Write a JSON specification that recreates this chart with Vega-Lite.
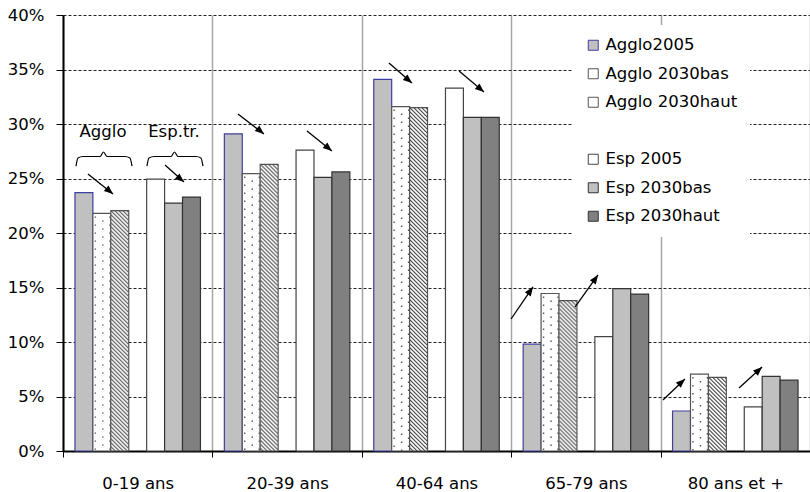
{
"$schema":"https://vega.github.io/schema/vega-lite/v6.json",
"autosize":"none","width":747,"height":436,
"padding":{"left":63,"top":15,"right":0,"bottom":41},
"datasets":{
"bars":[
{"age":"0-19 ans","s":"Agglo2005","v":23.7},{"age":"0-19 ans","s":"Agglo 2030bas","v":21.8},{"age":"0-19 ans","s":"Agglo 2030haut","v":22.05},
{"age":"0-19 ans","s":"Esp 2005","v":24.95},{"age":"0-19 ans","s":"Esp 2030bas","v":22.75},{"age":"0-19 ans","s":"Esp 2030haut","v":23.3},
{"age":"20-39 ans","s":"Agglo2005","v":29.1},{"age":"20-39 ans","s":"Agglo 2030bas","v":25.45},{"age":"20-39 ans","s":"Agglo 2030haut","v":26.3},
{"age":"20-39 ans","s":"Esp 2005","v":27.6},{"age":"20-39 ans","s":"Esp 2030bas","v":25.1},{"age":"20-39 ans","s":"Esp 2030haut","v":25.6},
{"age":"40-64 ans","s":"Agglo2005","v":34.1},{"age":"40-64 ans","s":"Agglo 2030bas","v":31.6},{"age":"40-64 ans","s":"Agglo 2030haut","v":31.5},
{"age":"40-64 ans","s":"Esp 2005","v":33.3},{"age":"40-64 ans","s":"Esp 2030bas","v":30.6},{"age":"40-64 ans","s":"Esp 2030haut","v":30.6},
{"age":"65-79 ans","s":"Agglo2005","v":9.8},{"age":"65-79 ans","s":"Agglo 2030bas","v":14.45},{"age":"65-79 ans","s":"Agglo 2030haut","v":13.8},
{"age":"65-79 ans","s":"Esp 2005","v":10.5},{"age":"65-79 ans","s":"Esp 2030bas","v":14.9},{"age":"65-79 ans","s":"Esp 2030haut","v":14.4},
{"age":"80 ans et +","s":"Agglo2005","v":3.67},{"age":"80 ans et +","s":"Agglo 2030bas","v":7.06},{"age":"80 ans et +","s":"Agglo 2030haut","v":6.76},
{"age":"80 ans et +","s":"Esp 2005","v":4.04},{"age":"80 ans et +","s":"Esp 2030bas","v":6.85},{"age":"80 ans et +","s":"Esp 2030haut","v":6.5}
],
"arrows":[
{"age":"0-19 ans","x1":0.167,"y1":25.41,"x2":0.335,"y2":23.58},
{"age":"0-19 ans","x1":0.683,"y1":26.24,"x2":0.81,"y2":24.68},
{"age":"20-39 ans","x1":1.171,"y1":30.92,"x2":1.345,"y2":29.08},
{"age":"20-39 ans","x1":1.633,"y1":29.36,"x2":1.8,"y2":27.52},
{"age":"40-64 ans","x1":2.182,"y1":35.6,"x2":2.336,"y2":33.76},
{"age":"40-64 ans","x1":2.651,"y1":34.86,"x2":2.818,"y2":32.94},
{"age":"65-79 ans","x1":2.999,"y1":12.11,"x2":3.146,"y2":15.05},
{"age":"65-79 ans","x1":3.427,"y1":13.21,"x2":3.581,"y2":16.15},
{"age":"80 ans et +","x1":4.016,"y1":4.68,"x2":4.163,"y2":6.61},
{"age":"80 ans et +","x1":4.525,"y1":5.78,"x2":4.679,"y2":7.71}
],
"braces":[
{"b":"A","x":0.087,"y":26.14},{"b":"A","x":0.1,"y":26.88},{"b":"A","x":0.134,"y":27.02},{"b":"A","x":0.248,"y":27.02},{"b":"A","x":0.271,"y":27.43},{"b":"A","x":0.295,"y":27.02},{"b":"A","x":0.415,"y":27.02},{"b":"A","x":0.448,"y":26.88},{"b":"A","x":0.462,"y":26.14},
{"b":"E","x":0.562,"y":26.14},{"b":"E","x":0.575,"y":26.88},{"b":"E","x":0.609,"y":27.02},{"b":"E","x":0.723,"y":27.02},{"b":"E","x":0.746,"y":27.43},{"b":"E","x":0.77,"y":27.02},{"b":"E","x":0.89,"y":27.02},{"b":"E","x":0.923,"y":26.88},{"b":"E","x":0.937,"y":26.14}
],
"notes":[{"t":"Agglo","x":0.268,"y":29.27},{"t":"Esp.tr.","x":0.743,"y":29.27}]
},
"layer":[
{
"layer":[
{"data":{"name":"bars"},
"mark":{"type":"bar","strokeWidth":1.2},
"encoding":{
"x":{"field":"age","type":"nominal","scale":{"domain":["0-19 ans","20-39 ans","40-64 ans","65-79 ans","80 ans et +"],"paddingInner":0,"paddingOuter":0},"axis":{"tickBand":"extent","title":null,"labelAngle":0}},
"xOffset":{"field":"s","type":"nominal","scale":{"domain":["Agglo2005","Agglo 2030bas","Agglo 2030haut","gap","Esp 2005","Esp 2030bas","Esp 2030haut"],"paddingInner":0,"paddingOuter":0.667}},
"y":{"field":"v","type":"quantitative","scale":{"domain":[0,40]},"axis":{"values":[0,5,10,15,20,25,30,35,40],"labelExpr":"datum.value + '%'","title":null}},
"fill":{"field":"s","type":"nominal","scale":{"domain":["Agglo2005","Agglo 2030bas","Agglo 2030haut","gap","Esp 2005","Esp 2030bas","Esp 2030haut"],"range":["#c0c0c0","#ffffff","#ffffff","transparent","#ffffff","#c0c0c0","#808080"]},"legend":{"title":null,"labelExpr":"datum.label == 'gap' ? '' : datum.label"}},
"stroke":{"field":"s","type":"nominal","scale":{"domain":["Agglo2005","Agglo 2030bas","Agglo 2030haut","gap","Esp 2005","Esp 2030bas","Esp 2030haut"],"range":["#3f3f9f","#555555","#555555","transparent","#444444","#333333","#333333"]},"legend":{"title":null,"labelExpr":"datum.label == 'gap' ? '' : datum.label"}}
}},
{"data":{"name":"bars"},
"transform":[{"filter":"datum.s == 'Agglo 2030bas'"}],
"encoding":{"y":{"field":"v","type":"quantitative"},"y2":{"datum":0}},
"layer":[
{"mark":{"type":"rule","strokeDash":[1.4,6.6],"strokeDashOffset":-3,"strokeWidth":1.4,"color":"#555555"},"encoding":{"x":{"field":"age","type":"nominal","bandPosition":0.2165}}},
{"mark":{"type":"rule","strokeDash":[1.4,6.6],"strokeDashOffset":-7,"strokeWidth":1.4,"color":"#555555"},"encoding":{"x":{"field":"age","type":"nominal","bandPosition":0.2667}}},
{"mark":{"type":"rule","strokeDash":[1.4,6.6],"strokeDashOffset":-3,"strokeWidth":1.4,"color":"#555555"},"encoding":{"x":{"field":"age","type":"nominal","bandPosition":0.3136}}}
]},
{"data":{"name":"bars"},
"transform":[{"filter":"datum.s == 'Agglo 2030haut'"}],
"encoding":{"y":{"field":"v","type":"quantitative"},"y2":{"datum":0}},
"layer":[
{"mark":{"type":"rule","strokeDashOffset":8,"strokeDash":[1.6,2.4],"strokeWidth":1,"color":"#444444"},"encoding":{"x":{"field":"age","type":"nominal","bandPosition":0.32657}}},
{"mark":{"type":"rule","strokeDashOffset":7,"strokeDash":[1.6,2.4],"strokeWidth":1,"color":"#444444"},"encoding":{"x":{"field":"age","type":"nominal","bandPosition":0.33327}}},
{"mark":{"type":"rule","strokeDashOffset":6,"strokeDash":[1.6,2.4],"strokeWidth":1,"color":"#444444"},"encoding":{"x":{"field":"age","type":"nominal","bandPosition":0.33996}}},
{"mark":{"type":"rule","strokeDashOffset":5,"strokeDash":[1.6,2.4],"strokeWidth":1,"color":"#444444"},"encoding":{"x":{"field":"age","type":"nominal","bandPosition":0.34665}}},
{"mark":{"type":"rule","strokeDashOffset":4,"strokeDash":[1.6,2.4],"strokeWidth":1,"color":"#444444"},"encoding":{"x":{"field":"age","type":"nominal","bandPosition":0.35334}}},
{"mark":{"type":"rule","strokeDashOffset":3,"strokeDash":[1.6,2.4],"strokeWidth":1,"color":"#444444"},"encoding":{"x":{"field":"age","type":"nominal","bandPosition":0.36004}}},
{"mark":{"type":"rule","strokeDashOffset":2,"strokeDash":[1.6,2.4],"strokeWidth":1,"color":"#444444"},"encoding":{"x":{"field":"age","type":"nominal","bandPosition":0.36673}}},
{"mark":{"type":"rule","strokeDashOffset":1,"strokeDash":[1.6,2.4],"strokeWidth":1,"color":"#444444"},"encoding":{"x":{"field":"age","type":"nominal","bandPosition":0.37343}}},
{"mark":{"type":"rule","strokeDashOffset":0,"strokeDash":[1.6,2.4],"strokeWidth":1,"color":"#444444"},"encoding":{"x":{"field":"age","type":"nominal","bandPosition":0.38012}}},
{"mark":{"type":"rule","strokeDashOffset":-1,"strokeDash":[1.6,2.4],"strokeWidth":1,"color":"#444444"},"encoding":{"x":{"field":"age","type":"nominal","bandPosition":0.38681}}},
{"mark":{"type":"rule","strokeDashOffset":-2,"strokeDash":[1.6,2.4],"strokeWidth":1,"color":"#444444"},"encoding":{"x":{"field":"age","type":"nominal","bandPosition":0.39351}}},
{"mark":{"type":"rule","strokeDashOffset":-3,"strokeDash":[1.6,2.4],"strokeWidth":1,"color":"#444444"},"encoding":{"x":{"field":"age","type":"nominal","bandPosition":0.4002}}},
{"mark":{"type":"rule","strokeDashOffset":-4,"strokeDash":[1.6,2.4],"strokeWidth":1,"color":"#444444"},"encoding":{"x":{"field":"age","type":"nominal","bandPosition":0.40689}}},
{"mark":{"type":"rule","strokeDashOffset":-5,"strokeDash":[1.6,2.4],"strokeWidth":1,"color":"#444444"},"encoding":{"x":{"field":"age","type":"nominal","bandPosition":0.41359}}},
{"mark":{"type":"rule","strokeDashOffset":-6,"strokeDash":[1.6,2.4],"strokeWidth":1,"color":"#444444"},"encoding":{"x":{"field":"age","type":"nominal","bandPosition":0.42028}}},
{"mark":{"type":"rule","strokeDashOffset":-7,"strokeDash":[1.6,2.4],"strokeWidth":1,"color":"#444444"},"encoding":{"x":{"field":"age","type":"nominal","bandPosition":0.42697}}},
{"mark":{"type":"rule","strokeDashOffset":-8,"strokeDash":[1.6,2.4],"strokeWidth":1,"color":"#444444"},"encoding":{"x":{"field":"age","type":"nominal","bandPosition":0.43367}}}
]}
]
},
{
"layer":[
{"data":{"name":"arrows"},"mark":{"type":"rule","color":"#000000","strokeWidth":1.3},
"encoding":{"x":{"field":"x1","type":"quantitative","scale":{"domain":[0,5]},"axis":null},"x2":{"field":"x2"},"y":{"field":"y1","type":"quantitative","title":null},"y2":{"field":"y2"}}},
{"data":{"name":"arrows"},"transform":[{"filter":"datum.y2 < datum.y1"}],
"mark":{"type":"point","shape":"M0,0L-0.8,2L0.8,2Z","filled":true,"color":"#000000","opacity":1,"size":81,"angle":130},
"encoding":{"x":{"field":"x2","type":"quantitative","scale":{"domain":[0,5]},"axis":null},"y":{"field":"y2","type":"quantitative","title":null}}},
{"data":{"name":"arrows"},"transform":[{"filter":"datum.age == '65-79 ans'"}],
"mark":{"type":"point","shape":"M0,0L-0.8,2L0.8,2Z","filled":true,"color":"#000000","opacity":1,"size":81,"angle":35},
"encoding":{"x":{"field":"x2","type":"quantitative","scale":{"domain":[0,5]},"axis":null},"y":{"field":"y2","type":"quantitative","title":null}}},
{"data":{"name":"arrows"},"transform":[{"filter":"datum.age == '80 ans et +'"}],
"mark":{"type":"point","shape":"M0,0L-0.8,2L0.8,2Z","filled":true,"color":"#000000","opacity":1,"size":81,"angle":47},
"encoding":{"x":{"field":"x2","type":"quantitative","scale":{"domain":[0,5]},"axis":null},"y":{"field":"y2","type":"quantitative","title":null}}},
{"data":{"name":"braces"},"mark":{"type":"line","color":"#000000","strokeWidth":1.2,"interpolate":"monotone"},
"encoding":{"x":{"field":"x","type":"quantitative","scale":{"domain":[0,5]},"axis":null},"y":{"field":"y","type":"quantitative","title":null},"detail":{"field":"b"}}},
{"data":{"name":"notes"},"mark":{"type":"text","font":"DejaVu Sans","fontSize":16.5,"color":"#000000","align":"center","baseline":"middle"},
"encoding":{"x":{"field":"x","type":"quantitative","scale":{"domain":[0,5]},"axis":null},"y":{"field":"y","type":"quantitative","title":null},"text":{"field":"t"}}}
]
}
],
"resolve":{"scale":{"x":"independent"}},
"config":{
"view":{"stroke":null},
"font":"DejaVu Sans",
"axis":{"labelFont":"DejaVu Sans","labelFontSize":16.5,"labelColor":"#000000","domainColor":"#000000","domainWidth":2,"tickColor":"#000000","title":null},
"axisY":{"grid":true,"gridDash":[3,2],"gridColor":"#222222","gridWidth":1,"tickSize":7,"labelPadding":12},
"axisX":{"grid":true,"gridColor":"#a6a6a6","gridWidth":1.5,"tickSize":6,"labelPadding":18,"labelAngle":0},
"legend":{"orient":"none","legendX":510,"legendY":10,"labelFont":"DejaVu Sans","labelFontSize":16.5,"labelColor":"#000000","symbolType":"square","symbolSize":100,"symbolStrokeWidth":1,"rowPadding":11.5,"labelOffset":4,"fillColor":"white","padding":12}
}
}
